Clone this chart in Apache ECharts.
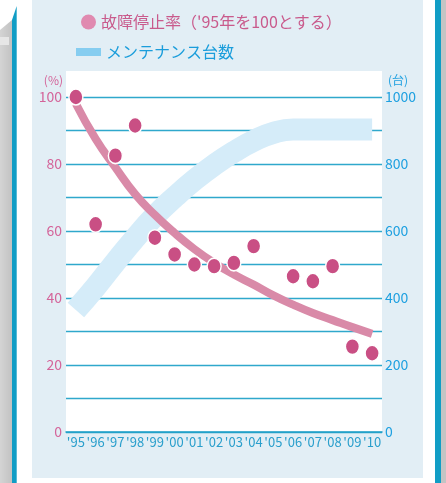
<!DOCTYPE html>
<html><head><meta charset="utf-8">
<script src="https://cdn.jsdelivr.net/npm/echarts@6/dist/echarts.min.js"></script>
<style>html,body{margin:0;padding:0;background:#fff}#c{width:446px;height:483px}</style>
</head><body><div id="c"></div>
<script>
const categories = ["'95","'96","'97","'98","'99","'00","'01","'02","'03","'04","'05","'06","'07","'08","'09","'10"];
const failureRate = [100, 62, 82.5, 91.5, 58, 53, 50, 49.5, 50.5, 55.5, null, 46.5, 45, 49.5, 25.5, 23.5];
const failureTrend = [98, 87.5, 79, 71, 64.8, 59.4, 54.6, 50.5, 47, 44, 40.8, 38, 35.5, 33.4, 31.3, 29.3];
const maintenanceUnits = [364, 433, 507, 579, 645, 701, 752, 797, 836, 869, 893, 903, 903, 903, 903, 903];
const leftTicks = [0, 20, 40, 60, 80, 100];
const rightTicks = [0, 200, 400, 600, 800, 1000];
const legendRate = "故障停止率（'95年を100とする）";
const legendUnits = "メンテナンス台数";

const FONT = '"Noto Sans CJK JP", "Noto Sans", sans-serif';
const chart = echarts.init(document.getElementById('c'));
chart.setOption({
  animation: false,
  backgroundColor: '#ffffff',
  graphic: [
    {type:'rect', z:-100, shape:{x:32,y:0,width:391,height:478}, style:{fill:'#e2eef5'}},
    {type:'rect', z:-90, shape:{x:66,y:71,width:316,height:361}, style:{fill:'#ffffff'}},
    {type:'polygon', z:-100, shape:{points:[[0,30],[12,20],[12,483],[0,483]]},
      style:{fill:new echarts.graphic.LinearGradient(0,0,1,0,[{offset:0,color:'#d4d4d4'},{offset:1,color:'#c2c2c2'}])}},
    {type:'rect', z:-99, shape:{x:0,y:37,width:9,height:8}, style:{fill:'#e6e6e6'}},
    {type:'polygon', z:-100, shape:{points:[[12,20],[16.7,6],[16.7,483],[12,483]]}, style:{fill:'#119dc5'}},
    {type:'rect', z:-100, shape:{x:435,y:0,width:6,height:483}, style:{fill:'#119dc5'}},
    {type:'rect', z:-100, shape:{x:441,y:0,width:5,height:483}, style:{fill:'#c4c4c4'}}
  ],
  legend: [
    {left:76, top:9, icon:'circle', itemWidth:15, itemHeight:15, itemGap:5,
     data:[{name:legendRate, itemStyle:{color:'#e08ab0', borderWidth:0}}],
     textStyle:{color:'#c95a8c', fontSize:16, fontFamily:FONT}},
    {left:71, top:39, icon:'rect', itemWidth:25, itemHeight:8,
     data:[{name:legendUnits, itemStyle:{color:'#86cdf0'}, lineStyle:{width:0}}],
     textStyle:{color:'#1a9ddb', fontSize:16, fontFamily:FONT}}
  ],
  grid: {left:66, right:64, top:97, bottom:51},
  xAxis: {
    type:'category', data:categories, boundaryGap:true,
    axisLine:{lineStyle:{color:'#1f9fc8', width:1.5}},
    axisTick:{show:false},
    axisLabel:{color:'#2a9fcc', fontSize:13, margin:4, fontFamily:FONT, interval:0}
  },
  yAxis: [
    {type:'value', min:0, max:100, interval:10, position:'left',
     name:'(%)', nameLocation:'end', nameGap:11,
     nameTextStyle:{color:'#d4649a', fontSize:12, align:'right', padding:[0,3,0,0], fontFamily:FONT},
     axisLine:{show:false}, axisTick:{show:false},
     axisLabel:{color:'#d4649a', fontSize:14, margin:4, fontFamily:FONT,
       formatter: v => leftTicks.includes(v) ? String(v) : ''},
     splitLine:{lineStyle:{color:'#2fa8cc', width:1.3}}},
    {type:'value', min:0, max:1000, interval:100, position:'right',
     name:'(台)', nameLocation:'end', nameGap:11,
     nameTextStyle:{color:'#1ea0e0', fontSize:12, align:'left', padding:[0,0,0,6], fontFamily:FONT},
     axisLine:{show:false}, axisTick:{show:false},
     axisLabel:{color:'#1ea0e0', fontSize:14, margin:3, fontFamily:FONT,
       formatter: v => rightTicks.includes(v) ? String(v) : ''},
     splitLine:{show:false}}
  ],
  series: [
    {name:legendUnits, type:'line', yAxisIndex:1, data:maintenanceUnits, smooth:true,
     showSymbol:false, z:1, lineStyle:{color:'#d5ecf9', width:22, cap:'butt'}, itemStyle:{color:'#d5ecf9'}},
    {name:'trend', type:'line', yAxisIndex:0, data:failureTrend, smooth:true,
     showSymbol:false, z:2, lineStyle:{color:'#d98aa8', width:8, cap:'butt'}, itemStyle:{color:'#d98aa8'}},
    {name:legendRate, type:'scatter', yAxisIndex:0, data:failureRate, symbol:'circle', symbolSize:[14,16], z:3,
     itemStyle:{color:'#c94f84', borderColor:'#ffffff', borderWidth:1.5, opacity:1}}
  ]
});
</script></body></html>
